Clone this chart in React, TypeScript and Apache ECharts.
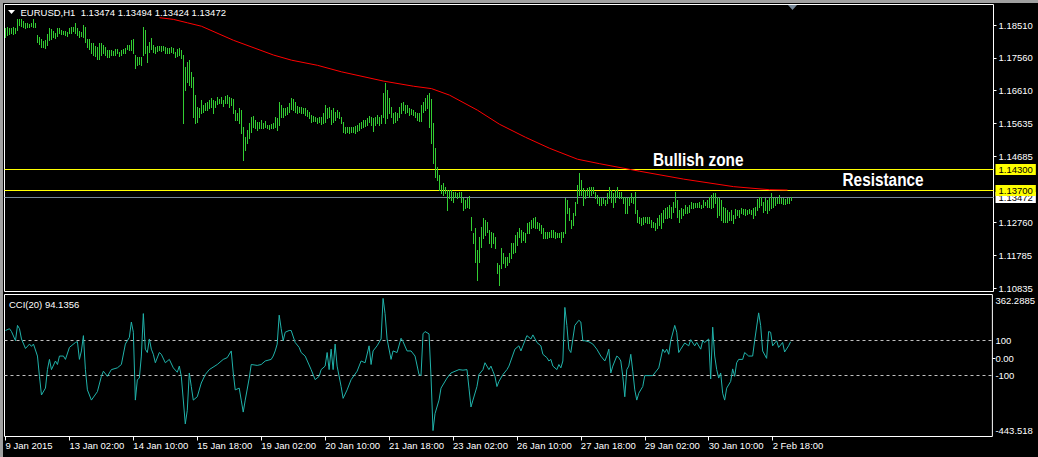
import React, { useEffect, useRef } from 'react';
import * as echarts from 'echarts';

// ---------- data ----------
const symbolTitle = 'EURUSD,H1';
const lastOHLC = [1.13474, 1.13494, 1.13424, 1.13472];
const cciTitle = 'CCI(20)';
const cciLast = 94.1356;

const xTickLabels = [
  '9 Jan 2015', '13 Jan 02:00', '14 Jan 10:00', '15 Jan 18:00', '19 Jan 02:00',
  '20 Jan 10:00', '21 Jan 18:00', '23 Jan 02:00', '26 Jan 10:00', '27 Jan 18:00',
  '29 Jan 02:00', '30 Jan 10:00', '2 Feb 18:00',
];
const barsPerLabel = 32;
const totalSlots = 494;

const priceTicks = [1.1851, 1.1756, 1.1661, 1.15635, 1.14685, 1.1276, 1.11785, 1.10835];
const priceMin = 1.1074;
const priceMax = 1.191147;

const highs = [
  1.1842, 1.1845, 1.1842, 1.1842, 1.1845, 1.1842, 1.1869, 1.1869, 1.1869, 1.1863,
  1.1857, 1.1857, 1.1854, 1.1857, 1.1869, 1.1857, 1.1822, 1.1816, 1.1810, 1.1804,
  1.1807, 1.1825, 1.1842, 1.1839, 1.1834, 1.1828, 1.1842, 1.1842, 1.1836, 1.1834,
  1.1834, 1.1831, 1.1842, 1.1845, 1.1845, 1.1857, 1.1842, 1.1834, 1.1831, 1.1851,
  1.1845, 1.1810, 1.1810, 1.1799, 1.1799, 1.1790, 1.1787, 1.1799, 1.1799, 1.1793,
  1.1787, 1.1778, 1.1778, 1.1778, 1.1775, 1.1781, 1.1781, 1.1772, 1.1778, 1.1781,
  1.1784, 1.1793, 1.1793, 1.1807, 1.1810, 1.1764, 1.1758, 1.1758, 1.1758, 1.1845,
  1.1836, 1.1790, 1.1801, 1.1813, 1.1793, 1.1787, 1.1790, 1.1790, 1.1790, 1.1790,
  1.1787, 1.1784, 1.1784, 1.1787, 1.1784, 1.1772, 1.1781, 1.1784, 1.1778, 1.1764,
  1.1728, 1.1743, 1.1749, 1.1714, 1.1699, 1.1647, 1.1612, 1.1609, 1.1632, 1.1618,
  1.1623, 1.1626, 1.1632, 1.1638, 1.1632, 1.1629, 1.1641, 1.1635, 1.1641, 1.1632,
  1.1644, 1.1647, 1.1641, 1.1638, 1.1635, 1.1603, 1.1594, 1.1609, 1.1603, 1.1553,
  1.1524, 1.1545, 1.1565, 1.1583, 1.1586, 1.1574, 1.1568, 1.1568, 1.1574, 1.1565,
  1.1571, 1.1559, 1.1559, 1.1562, 1.1565, 1.1583, 1.1580, 1.1626, 1.1618, 1.1609,
  1.1609, 1.1612, 1.1623, 1.1638, 1.1635, 1.1626, 1.1615, 1.1612, 1.1612, 1.1609,
  1.1609, 1.1603, 1.1597, 1.1588, 1.1586, 1.1583, 1.1580, 1.1583, 1.1583, 1.1594,
  1.1618, 1.1609, 1.1612, 1.1603, 1.1609, 1.1597, 1.1603, 1.1597, 1.1583, 1.1568,
  1.1553, 1.1553, 1.1553, 1.1553, 1.1553, 1.1556, 1.1559, 1.1565, 1.1568, 1.1574,
  1.1574, 1.1580, 1.1586, 1.1583, 1.1580, 1.1583, 1.1588, 1.1583, 1.1588, 1.1653,
  1.1682, 1.1661, 1.1638, 1.1612, 1.1594, 1.1597, 1.1594, 1.1612, 1.1623, 1.1626,
  1.1618, 1.1618, 1.1609, 1.1606, 1.1603, 1.1597, 1.1594, 1.1594, 1.1618, 1.1626,
  1.1638, 1.1647, 1.1653, 1.1635, 1.1565, 1.1492, 1.1437, 1.1413, 1.1384, 1.1390,
  1.1378, 1.1370, 1.1370, 1.1370, 1.1364, 1.1364, 1.1361, 1.1364, 1.1364, 1.1346,
  1.1340, 1.1346, 1.1352, 1.1291, 1.1244, 1.1259, 1.1195, 1.1232, 1.1262, 1.1288,
  1.1282, 1.1276, 1.1253, 1.1247, 1.1244, 1.1232, 1.1157, 1.1151, 1.1200, 1.1186,
  1.1174, 1.1174, 1.1186, 1.1215, 1.1215, 1.1238, 1.1247, 1.1259, 1.1253, 1.1247,
  1.1244, 1.1273, 1.1276, 1.1282, 1.1288, 1.1291, 1.1276, 1.1273, 1.1267, 1.1259,
  1.1247, 1.1247, 1.1247, 1.1253, 1.1253, 1.1247, 1.1244, 1.1244, 1.1247, 1.1247,
  1.1346, 1.1340, 1.1317, 1.1282, 1.1302, 1.1335, 1.1384, 1.1419, 1.1399, 1.1375,
  1.1370, 1.1375, 1.1378, 1.1378, 1.1378, 1.1364, 1.1355, 1.1349, 1.1346, 1.1346,
  1.1340, 1.1361, 1.1378, 1.1370, 1.1361, 1.1370, 1.1378, 1.1364, 1.1364, 1.1349,
  1.1349, 1.1346, 1.1349, 1.1361, 1.1349, 1.1364, 1.1311, 1.1291, 1.1288, 1.1291,
  1.1291, 1.1291, 1.1291, 1.1282, 1.1276, 1.1273, 1.1288, 1.1297, 1.1302, 1.1311,
  1.1317, 1.1320, 1.1326, 1.1320, 1.1335, 1.1364, 1.1340, 1.1311, 1.1317, 1.1314,
  1.1326, 1.1320, 1.1326, 1.1335, 1.1332, 1.1332, 1.1332, 1.1335, 1.1326, 1.1340,
  1.1335, 1.1340, 1.1349, 1.1355, 1.1361, 1.1361, 1.1349, 1.1346, 1.1340, 1.1320,
  1.1317, 1.1311, 1.1305, 1.1311, 1.1297, 1.1314, 1.1311, 1.1311, 1.1317, 1.1314,
  1.1314, 1.1311, 1.1314, 1.1311, 1.1317, 1.1320, 1.1343, 1.1349, 1.1349, 1.1335,
  1.1346, 1.1340, 1.1346, 1.1361, 1.1346, 1.1349, 1.1346, 1.1355, 1.1346, 1.1346,
  1.1343, 1.1346, 1.1346, 1.13494,
];

const lows = [
  1.1816, 1.1822, 1.1825, 1.1828, 1.1825, 1.1828, 1.1836, 1.1851, 1.1848, 1.1845,
  1.1842, 1.1845, 1.1845, 1.1848, 1.1845, 1.1845, 1.1801, 1.1796, 1.1787, 1.1787,
  1.1784, 1.1793, 1.1807, 1.1810, 1.1816, 1.1813, 1.1819, 1.1828, 1.1825, 1.1825,
  1.1822, 1.1819, 1.1828, 1.1828, 1.1834, 1.1828, 1.1822, 1.1816, 1.1819, 1.1816,
  1.1801, 1.1787, 1.1781, 1.1769, 1.1764, 1.1761, 1.1752, 1.1752, 1.1764, 1.1769,
  1.1764, 1.1758, 1.1758, 1.1764, 1.1764, 1.1764, 1.1769, 1.1761, 1.1764, 1.1769,
  1.1769, 1.1781, 1.1778, 1.1778, 1.1769, 1.1726, 1.1734, 1.1737, 1.1734, 1.1764,
  1.1769, 1.1743, 1.1772, 1.1781, 1.1772, 1.1769, 1.1775, 1.1778, 1.1775, 1.1778,
  1.1769, 1.1769, 1.1769, 1.1772, 1.1769, 1.1758, 1.1761, 1.1764, 1.1755, 1.1565,
  1.1661, 1.1685, 1.1676, 1.1670, 1.1583, 1.1565, 1.1568, 1.1583, 1.1594, 1.1597,
  1.1603, 1.1603, 1.1609, 1.1612, 1.1594, 1.1612, 1.1621, 1.1623, 1.1623, 1.1615,
  1.1623, 1.1623, 1.1612, 1.1618, 1.1594, 1.1574, 1.1574, 1.1565, 1.1536, 1.1457,
  1.1486, 1.1507, 1.1521, 1.1539, 1.1553, 1.1550, 1.1545, 1.1550, 1.1550, 1.1550,
  1.1553, 1.1550, 1.1548, 1.1550, 1.1550, 1.1553, 1.1545, 1.1559, 1.1583, 1.1583,
  1.1588, 1.1591, 1.1597, 1.1606, 1.1603, 1.1597, 1.1594, 1.1597, 1.1594, 1.1594,
  1.1588, 1.1586, 1.1580, 1.1568, 1.1571, 1.1571, 1.1565, 1.1568, 1.1562, 1.1565,
  1.1568, 1.1580, 1.1583, 1.1562, 1.1568, 1.1574, 1.1583, 1.1580, 1.1565, 1.1539,
  1.1536, 1.1539, 1.1536, 1.1539, 1.1539, 1.1536, 1.1542, 1.1545, 1.1550, 1.1553,
  1.1556, 1.1559, 1.1568, 1.1559, 1.1542, 1.1559, 1.1565, 1.1559, 1.1565, 1.1583,
  1.1565, 1.1580, 1.1594, 1.1583, 1.1565, 1.1568, 1.1574, 1.1583, 1.1594, 1.1603,
  1.1594, 1.1597, 1.1588, 1.1591, 1.1588, 1.1583, 1.1574, 1.1571, 1.1571, 1.1597,
  1.1603, 1.1609, 1.1553, 1.1507, 1.1448, 1.1408, 1.1399, 1.1370, 1.1361, 1.1355,
  1.1361, 1.1311, 1.1346, 1.1340, 1.1335, 1.1349, 1.1346, 1.1349, 1.1335, 1.1311,
  1.1317, 1.1320, 1.1317, 1.1253, 1.1215, 1.1159, 1.1107, 1.1159, 1.1203, 1.1230,
  1.1238, 1.1247, 1.1215, 1.1203, 1.1215, 1.1200, 1.1127, 1.1092, 1.1142, 1.1157,
  1.1145, 1.1151, 1.1159, 1.1171, 1.1186, 1.1189, 1.1209, 1.1232, 1.1218, 1.1224,
  1.1218, 1.1244, 1.1244, 1.1259, 1.1262, 1.1259, 1.1259, 1.1253, 1.1244, 1.1230,
  1.1230, 1.1230, 1.1232, 1.1232, 1.1232, 1.1230, 1.1232, 1.1232, 1.1218, 1.1232,
  1.1244, 1.1302, 1.1282, 1.1259, 1.1267, 1.1297, 1.1332, 1.1355, 1.1355, 1.1326,
  1.1346, 1.1355, 1.1349, 1.1355, 1.1361, 1.1346, 1.1332, 1.1326, 1.1326, 1.1332,
  1.1326, 1.1332, 1.1346, 1.1335, 1.1320, 1.1335, 1.1349, 1.1346, 1.1346, 1.1332,
  1.1302, 1.1302, 1.1326, 1.1335, 1.1332, 1.1302, 1.1276, 1.1273, 1.1267, 1.1270,
  1.1276, 1.1273, 1.1273, 1.1262, 1.1262, 1.1253, 1.1259, 1.1267, 1.1259, 1.1276,
  1.1288, 1.1288, 1.1291, 1.1288, 1.1305, 1.1320, 1.1291, 1.1276, 1.1288, 1.1297,
  1.1302, 1.1302, 1.1305, 1.1317, 1.1317, 1.1320, 1.1320, 1.1320, 1.1317, 1.1320,
  1.1326, 1.1320, 1.1320, 1.1317, 1.1320, 1.1332, 1.1291, 1.1297, 1.1282, 1.1276,
  1.1276, 1.1276, 1.1282, 1.1282, 1.1273, 1.1288, 1.1297, 1.1291, 1.1302, 1.1300,
  1.1297, 1.1300, 1.1302, 1.1300, 1.1288, 1.1297, 1.1311, 1.1320, 1.1326, 1.1305,
  1.1311, 1.1302, 1.1311, 1.1317, 1.1320, 1.1326, 1.1332, 1.1332, 1.1332, 1.1329,
  1.1329, 1.1332, 1.1332, 1.13424,
];

// moving average (bar index, value)
const maPoints = [
  [77, 1.1873], [84, 1.1868], [91, 1.1858], [98, 1.1848], [114, 1.1807], [134, 1.1764],
  [143, 1.1749], [156, 1.1734], [168, 1.1715], [189, 1.1688], [204, 1.1673], [213, 1.1666],
  [222, 1.1647], [236, 1.1603], [247, 1.1562], [260, 1.1524], [272, 1.1492], [286, 1.146],
  [297, 1.1447], [317, 1.1425], [339, 1.1402], [364, 1.138], [382, 1.1371], [391, 1.137],
];

const bidPrice = 1.13472;
const resistanceLevels = [1.137, 1.143];

// CCI (bar index, value)
const cciPoints = [
  [0,158],[2,168],[3,152],[5,100],[6,187],[7,168],[8,110],[10,56],[12,81],[13,68],[14,81],[16,13],
  [17,-102],[18,-208],[20,-169],[21,-64],[22,-6],[23,-64],[25,-15],[26,-35],[27,13],[29,13],[30,-6],
  [32,62],[35,90],[36,95],[37,-6],[38,42],[39,129],[40,-64],[41,-179],[43,-237],[46,-189],[48,-102],
  [49,-73],[51,-102],[53,-64],[56,-54],[58,-35],[60,81],[62,119],[63,206],[64,148],[65,-237],[66,-121],
  [67,-112],[68,13],[69,254],[70,52],[71,33],[72,110],[73,52],[74,23],[75,-25],[77,33],[78,23],[80,-25],
  [82,-6],[84,-54],[86,-79],[87,-44],[88,-102],[90,-372],[91,-295],[92,-83],[93,-160],[94,-237],
  [96,-218],[98,-140],[100,-92],[102,-64],[106,-35],[109,-6],[111,4],[113,42],[114,-83],[115,-179],
  [117,-169],[118,-237],[119,-305],[120,-237],[122,-112],[123,-35],[126,-40],[128,-35],[130,-15],
  [133,-6],[134,13],[135,42],[136,81],[137,245],[138,168],[139,100],[140,148],[142,158],[143,158],
  [145,90],[147,62],[148,33],[150,13],[153,-64],[155,-121],[157,-102],[158,-64],[160,-44],[161,33],
  [162,-64],[163,52],[164,-64],[165,81],[166,-44],[168,-160],[169,-227],[171,-179],[173,-121],
  [176,-73],[178,-15],[180,-25],[182,71],[183,-35],[184,42],[186,71],[188,110],[189,340],[190,254],
  [191,110],[193,-6],[194,42],[196,33],[198,114],[199,95],[201,42],[203,42],[205,13],[207,-92],
  [208,-97],[209,139],[210,152],[212,139],[213,-102],[214,-410],[215,-314],[217,-237],[218,-169],
  [221,-112],[223,-83],[227,-64],[229,-67],[231,-64],[232,-169],[233,-276],[234,-237],[236,-160],
  [237,-92],[239,-64],[240,-25],[242,-64],[243,-44],[244,-73],[245,-102],[246,-160],[247,-131],
  [249,-92],[251,-64],[252,-44],[255,52],[257,71],[258,42],[259,71],[261,129],[263,110],[264,133],
  [266,90],[268,71],[269,23],[271,4],[272,-15],[273,-6],[274,-44],[276,-64],[277,-35],[278,-54],
  [279,-15],[280,289],[281,187],[282,52],[283,33],[284,110],[285,187],[287,216],[288,206],[289,100],
  [290,100],[292,94],[294,81],[296,52],[298,13],[300,-15],[301,13],[302,52],[303,-83],[304,-44],
  [306,13],[307,4],[308,-15],[309,-102],[310,-218],[311,-64],[312,-44],[313,23],[314,-73],[315,-179],
  [316,-237],[317,-198],[319,-160],[320,-98],[324,-98],[327,-54],[329,52],[330,33],[331,52],[332,23],
  [333,100],[335,187],[336,148],[337,33],[338,52],[340,87],[342,71],[343,106],[345,71],[346,90],
  [348,52],[349,100],[350,90],[352,110],[353,-117],[354,177],[355,13],[356,-64],[357,-112],[358,-83],
  [359,-198],[360,-237],[361,-169],[363,-131],[364,-60],[365,-102],[366,-25],[367,-6],[369,-6],
  [370,33],[372,13],[374,13],[375,100],[377,258],[378,187],[379,42],[381,0],[382,152],[383,148],
  [384,71],[386,100],[387,62],[389,90],[390,36],[392,71],[393,94.1356],
];
const cciMin = -443.518;
const cciMax = 362.2885;
const cciTickValues = [362.2885, 100, 0, -100, -443.518];
const cciTickLabels = ['362.2885', '100', '0.00', '-100', '-443.518'];
const cciLevels = [100, -100];

const annotations = [
  { text: 'Bullish zone', x: 653, y: 160 },
  { text: 'Resistance', x: 842.5, y: 180.5 },
];

// ---------- styles ----------
const FONT = '"Liberation Sans", Arial, sans-serif';
const FS = 9.5;
const BAR_COLOR = '#32CD32';
const MA_COLOR = '#FF0000';
const CCI_COLOR = '#20B2AA';
const LEVEL_COLOR = '#FFFF00';
const BID_COLOR = '#778899';

// horizontal level line drawn crisp on a pixel row, with optional price box on the right
function levelRenderer(opts: { stroke: (i: number) => string; dash?: number[]; box?: (i: number) => string | null }) {
  return (params: any, api: any) => {
    const cs = params.coordSys;
    const v = api.value(1);
    const y = Math.floor(api.coord([0, v])[1]) + 0.5;
    const children: any[] = [
      {
        type: 'line',
        shape: { x1: cs.x, y1: y, x2: cs.x + cs.width, y2: y },
        style: { stroke: opts.stroke(params.dataIndex), lineWidth: 1, lineDash: opts.dash || null },
      },
    ];
    const bg = opts.box ? opts.box(params.dataIndex) : null;
    if (bg) {
      children.push({
        type: 'text',
        x: cs.x + cs.width + 2,
        y: y,
        style: {
          text: Number(v).toFixed(5), fill: '#000', backgroundColor: bg, padding: [1, 3, 0, 3],
          fontFamily: FONT, fontSize: FS, verticalAlign: 'middle', align: 'left',
        },
      });
    }
    return { type: 'group', children };
  };
}

function buildOption() {
  const xTickValues = xTickLabels.map((_, k) => k * barsPerLabel);
  const barData = highs.map((h, i) => [i, h, lows[i]]);
  const priceLevelData = [bidPrice, ...resistanceLevels].map((v) => [0, v]);
  const priceLevelStroke = (i: number) => (i === 0 ? BID_COLOR : LEVEL_COLOR);
  const priceLevelBox = (i: number) => (i === 0 ? '#FFFFFF' : LEVEL_COLOR);

  return {
    animation: false,
    backgroundColor: '#000',
    grid: [
      { left: 4.5, top: 4.5, width: 989, height: 287, show: true, borderColor: '#fff', borderWidth: 1, containLabel: false },
      { left: 4.5, top: 294.5, width: 989, height: 142, show: true, borderColor: '#fff', borderWidth: 1, containLabel: false },
    ],
    xAxis: [
      { type: 'value', gridIndex: 0, min: -0.5, max: totalSlots, show: false, axisLine: { onZero: false } },
      {
        type: 'value', gridIndex: 1, min: -0.5, max: totalSlots, position: 'bottom',
        axisLine: { show: false, onZero: false }, splitLine: { show: false },
        axisTick: { show: true, customValues: xTickValues, length: 4, lineStyle: { color: '#fff' } },
        axisLabel: {
          show: true, customValues: xTickValues, color: '#fff', fontFamily: FONT, fontSize: FS,
          align: 'left', margin: 4,
          formatter: (v: number) => xTickLabels[Math.round(v / barsPerLabel)] ?? '',
        },
      },
    ],
    yAxis: [
      {
        type: 'value', gridIndex: 0, position: 'right', min: priceMin, max: priceMax,
        axisLine: { show: false, onZero: false }, splitLine: { show: false },
        axisTick: { show: true, customValues: priceTicks, length: 3, lineStyle: { color: '#fff' } },
        axisLabel: {
          show: true, customValues: priceTicks, color: '#fff', fontFamily: FONT, fontSize: FS, margin: 5,
          formatter: (v: number) => v.toFixed(5),
        },
      },
      {
        type: 'value', gridIndex: 1, position: 'right', min: cciMin, max: cciMax,
        axisLine: { show: false, onZero: false }, splitLine: { show: false },
        axisTick: { show: true, customValues: [0], length: 3, lineStyle: { color: '#fff' } },
        axisLabel: {
          show: true, customValues: cciTickValues, color: '#fff', fontFamily: FONT, fontSize: FS, margin: 3,
          formatter: (v: number) => {
            const k = cciTickValues.findIndex((t) => Math.abs(t - v) < 1e-6);
            const s = k >= 0 ? cciTickLabels[k] : '';
            if (k === 0) return `{top|${s}}`;
            if (k === cciTickValues.length - 1) return `{bot|${s}}`;
            return s;
          },
          rich: {
            top: { padding: [12, 0, 0, 0], color: '#fff', fontFamily: FONT, fontSize: FS },
            bot: { padding: [0, 0, 12, 0], color: '#fff', fontFamily: FONT, fontSize: FS },
          },
        },
      },
    ],
    series: [
      {
        type: 'custom', xAxisIndex: 0, yAxisIndex: 0, z: 1, silent: true, clip: false,
        data: priceLevelData, encode: { x: 0, y: 1 },
        renderItem: levelRenderer({ stroke: priceLevelStroke, box: priceLevelBox }),
      },
      {
        type: 'custom', xAxisIndex: 0, yAxisIndex: 0, z: 2, silent: true, clip: true,
        data: barData,
        encode: { x: 0, y: [1, 2] },
        renderItem: (_params: any, api: any) => {
          const i = api.value(0);
          const top = api.coord([i, api.value(1)]);
          const bot = api.coord([i, api.value(2)]);
          const x = Math.round(top[0] - 0.5) + 0.5;
          return {
            type: 'line',
            shape: { x1: x, y1: Math.round(top[1]), x2: x, y2: Math.round(bot[1]) + 1 },
            style: { stroke: BAR_COLOR, lineWidth: 1 },
          };
        },
      },
      {
        type: 'line', xAxisIndex: 0, yAxisIndex: 0, z: 3, silent: true,
        data: maPoints, showSymbol: false, symbol: 'none', smooth: false,
        lineStyle: { color: MA_COLOR, width: 1 },
      },
      {
        type: 'custom', xAxisIndex: 1, yAxisIndex: 1, z: 1, silent: true, clip: false,
        data: cciLevels.map((v) => [0, v]), encode: { x: 0, y: 1 },
        renderItem: levelRenderer({ stroke: () => '#C0C0C0', dash: [3, 3] }),
      },
      {
        type: 'line', xAxisIndex: 1, yAxisIndex: 1, z: 3, silent: true,
        data: cciPoints, showSymbol: false, symbol: 'none',
        lineStyle: { color: CCI_COLOR, width: 1 },
      },
    ],
    graphic: [
      { type: 'rect', shape: { x: 0, y: 0, width: 1038, height: 3 }, style: { fill: '#a0a0a0' }, silent: true },
      { type: 'rect', shape: { x: 0, y: 0, width: 3, height: 457 }, style: { fill: '#a0a0a0' }, silent: true },
      { type: 'polygon', shape: { points: [[8, 10], [15, 10], [11.5, 14]] }, style: { fill: '#fff' }, silent: true },
      {
        type: 'text', x: 20.5, y: 12.5, silent: true,
        style: {
          text: `${symbolTitle}  ${lastOHLC.map((v) => v.toFixed(5)).join(' ')}`,
          fill: '#fff', fontFamily: FONT, fontSize: FS, verticalAlign: 'middle',
        },
      },
      { type: 'polygon', shape: { points: [[788, 5], [797, 5], [792.5, 10]] }, style: { fill: '#778899' }, silent: true },
      {
        type: 'text', x: 9, y: 304, silent: true,
        style: { text: `${cciTitle} ${cciLast.toFixed(4)}`, fill: '#fff', fontFamily: FONT, fontSize: FS, verticalAlign: 'middle' },
      },
      ...annotations.map((a) => ({
        type: 'text', x: a.x, y: a.y, scaleX: 0.83, silent: true,
        style: { text: a.text, fill: '#fff', fontFamily: FONT, fontSize: 18.5, fontWeight: 'bold', verticalAlign: 'middle' },
      })),
    ],
  };
}

export default function App() {
  const ref = useRef<HTMLDivElement>(null);
  useEffect(() => {
    document.body.style.margin = '0';
    document.body.style.background = '#000';
    const chart = echarts.init(ref.current as HTMLDivElement, null, { renderer: 'svg' });
    chart.setOption(buildOption() as any);
    return () => chart.dispose();
  }, []);
  return <div ref={ref} style={{ width: 1038, height: 457, background: '#000' }} />;
}
